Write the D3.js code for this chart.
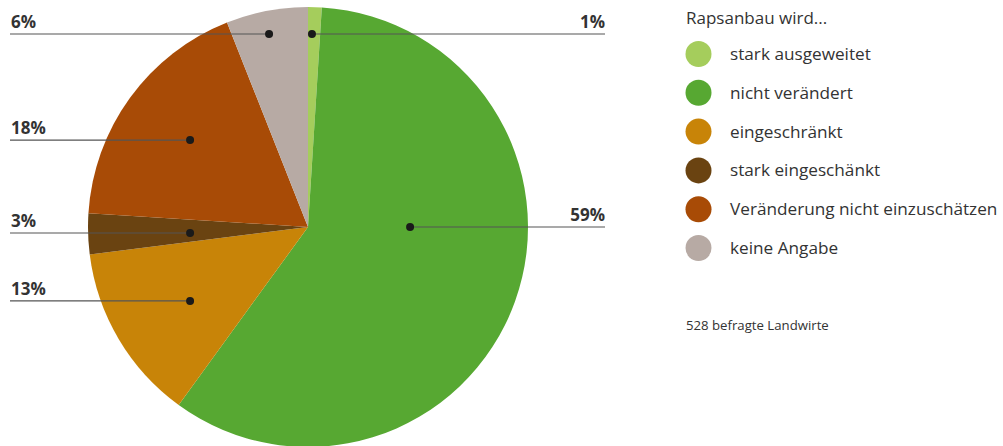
<!DOCTYPE html>
<html>
<head>
<meta charset="utf-8">
<script src="https://cdn.jsdelivr.net/npm/d3@7"></script>
<style>
  html, body { margin: 0; padding: 0; background: #fff; }
  svg { display: block; }
  text { font-family: "Open Sans", "Noto Sans", sans-serif; fill: #333; }
</style>
</head>
<body>
<svg id="chart" width="1003" height="446"></svg>
<script>
// Survey answers: how rapeseed cultivation will change
const categories = [
  "stark ausgeweitet",
  "nicht verändert",
  "eingeschränkt",
  "stark eingeschänkt",
  "Veränderung nicht einzuschätzen",
  "keine Angabe"
];
const shares = [1, 59, 13, 3, 18, 6];
const colors = ["#a5cd5c", "#57a832", "#c88408", "#6a4311", "#a84b06", "#b7aaa4"];
const legendTitle = "Rapsanbau wird...";
const footnote = "528 befragte Landwirte";

// Callout anchors inside each slice, as offsets from the pie centre in radius units,
// plus which side the label sits on
const calloutOffsets = [[0.018, -0.877], [0.464, 0], [-0.536, 0.336], [-0.536, 0.027], [-0.536, -0.395], [-0.177, -0.877]];
const calloutSide = ["right", "right", "left", "left", "left", "left"];

const svg = d3.select("#chart");
const cx = 308, cy = 227, R = 220;

const pie = d3.pie().sort(null).value(d => d)(shares);
const arc = d3.arc().innerRadius(0).outerRadius(R);

const g = svg.append("g").attr("transform", `translate(${cx},${cy})`);
g.selectAll("path")
  .data(pie)
  .join("path")
  .attr("d", arc)
  .attr("fill", (d, i) => colors[i]);

// Callout lines, dots and percentage labels
const rScale = d3.scaleLinear().domain([0, 1]).range([0, R]);
const leftX = 10, rightX = 605;
const callouts = svg.append("g");
shares.forEach((v, i) => {
  const x = cx + rScale(calloutOffsets[i][0]);
  const y = cy + rScale(calloutOffsets[i][1]);
  const right = calloutSide[i] === "right";
  callouts.append("line")
    .attr("x1", x).attr("y1", y)
    .attr("x2", right ? rightX : leftX).attr("y2", y)
    .attr("stroke", "#555").attr("stroke-width", 1.1);
  callouts.append("circle")
    .attr("cx", x).attr("cy", y).attr("r", 4)
    .attr("fill", "#1a1a1a");
  callouts.append("text")
    .attr("x", right ? rightX : leftX + 1)
    .attr("y", y - 6)
    .attr("text-anchor", right ? "end" : "start")
    .attr("font-size", 17)
    .attr("font-weight", "bold")
    .text(v + "%");
});

// Legend
const legend = svg.append("g").attr("transform", "translate(686,0)");
legend.append("text")
  .attr("x", 0).attr("y", 24)
  .attr("font-size", 17)
  .text(legendTitle);
const rowY = d3.scalePoint().domain(d3.range(categories.length)).range([54, 248]);
const rows = legend.selectAll("g.item")
  .data(categories)
  .join("g")
  .attr("class", "item")
  .attr("transform", (d, i) => `translate(0,${rowY(i)})`);
rows.append("circle")
  .attr("cx", 12.5).attr("cy", 0).attr("r", 13)
  .attr("fill", (d, i) => colors[i]);
rows.append("text")
  .attr("x", 44).attr("y", 6)
  .attr("font-size", 17.2)
  .text(d => d);

legend.append("text")
  .attr("x", 0).attr("y", 330)
  .attr("font-size", 13.2)
  .text(footnote);
</script>
</body>
</html>
